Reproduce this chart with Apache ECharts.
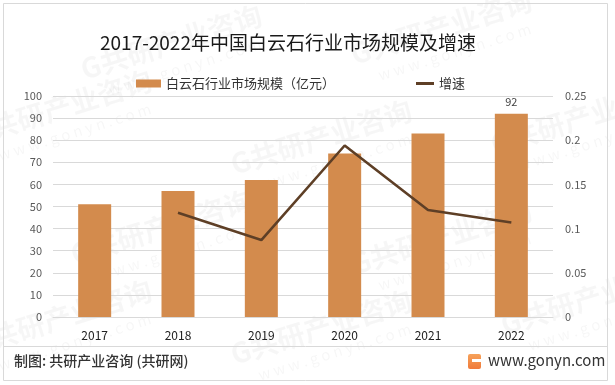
<!DOCTYPE html>
<html><head><meta charset="utf-8">
<script src="https://cdn.jsdelivr.net/npm/echarts@6/dist/echarts.min.js"></script>
<style>html,body{margin:0;padding:0;background:#fff}#c{width:615px;height:385px}</style>
</head><body><div id="c"></div>
<script>
const categories = ['2017','2018','2019','2020','2021','2022'];
const marketSize = [51, 57, 62, 74, 83, 92];
const growth = ['-', 0.118, 0.087, 0.194, 0.121, 0.107];
const leftTicks = [0,10,20,30,40,50,60,70,80,90,100];
const rightTicks = [0,0.05,0.1,0.15,0.2,0.25];
const barName = '白云石行业市场规模（亿元）';
const lineName = '增速';

const FONT = '"Noto Sans CJK SC","Noto Sans",sans-serif';
const chart = echarts.init(document.getElementById('c'));

const wm = [];
const wmPos = [[150,55],[420,40],[40,120],[300,150],[560,130],[140,240],[420,250],[40,330],[300,340],[570,310]];
wmPos.forEach(p => {
  wm.push({type:'group', x:p[0], y:p[1], rotation:0.3, silent:true, z:-1, children:[
    {type:'text', style:{text:'G共研产业咨询', x:-70, y:-20, fill:'rgba(0,0,0,0.035)', font:'bold 28px ' + FONT}},
    {type:'text', style:{text:'w w w . g o n y n . c o m', x:-50, y:14, fill:'rgba(0,0,0,0.035)', font:'15px ' + FONT}}
  ]});
});

chart.setOption({
  animation:false,
  backgroundColor:'#fff',
  textStyle:{fontFamily:FONT},
  title:{text:'2017-2022年中国白云石行业市场规模及增速', left:95, top:28,
    textStyle:{fontSize:19, fontWeight:'normal', color:'#1a1a1a', fontFamily:FONT}},
  legend:[
    {data:[{name:barName, icon:'rect'}], left:131, top:72, itemWidth:25, itemHeight:8, itemGap:4,
      textStyle:{fontSize:13, color:'#333', fontFamily:FONT}},
    {data:[{name:lineName, icon:'rect'}], left:411, top:72, itemWidth:18, itemHeight:3, itemGap:2,
      textStyle:{fontSize:13, color:'#333', fontFamily:FONT}}
  ],
  grid:{left:53, right:62, top:96, bottom:68, containLabel:false},
  xAxis:{type:'category', data:categories,
    axisLine:{lineStyle:{color:'#d9d9d9'}}, axisTick:{show:false},
    axisLabel:{color:'#222', fontSize:12, margin:12, fontFamily:FONT}},
  yAxis:[
    {type:'value', min:leftTicks[0], max:leftTicks[leftTicks.length-1], interval:10,
      axisLine:{show:false}, axisTick:{show:false},
      splitLine:{lineStyle:{color:'#d9d9d9'}},
      axisLabel:{color:'#595959', fontSize:11, margin:11, fontFamily:FONT}},
    {type:'value', min:rightTicks[0], max:rightTicks[rightTicks.length-1], interval:0.05,
      axisLine:{show:false}, axisTick:{show:false}, splitLine:{show:false},
      axisLabel:{color:'#595959', fontSize:11, margin:12, fontFamily:FONT}}
  ],
  series:[
    {name:barName, type:'bar', data:marketSize.map((v,i)=> i===marketSize.length-1 ?
        {value:v, label:{show:true, position:'top', distance:6, color:'#404040', fontSize:11}} : v),
      barWidth:33, itemStyle:{color:'#d38b4d'}},
    {name:lineName, type:'line', yAxisIndex:1, data:growth, symbol:'none',
      lineStyle:{width:2.6, color:'#5e3f26'}, itemStyle:{color:'#5e3f26'}}
  ],
  graphic:[
    ...wm,
    {type:'rect', shape:{x:3.5, y:3.5, width:604, height:377}, style:{fill:'none', stroke:'#d9d9d9', lineWidth:1}, silent:true},
    {type:'line', shape:{x1:4, y1:346.5, x2:607, y2:346.5}, style:{stroke:'#d9d9d9', lineWidth:1}, silent:true},
    {type:'text', style:{text:'制图: 共研产业咨询 (共研网)', x:14, y:354, fill:'#333', font:'500 14px ' + FONT}},
    {type:'rect', shape:{x:468, y:354, width:13, height:15, r:2},
      style:{fill:new echarts.graphic.LinearGradient(0,0,0,1,[{offset:0,color:'#f6a25a'},{offset:1,color:'#f07a3a'}])}},
    {type:'rect', shape:{x:472, y:359, width:9, height:3}, style:{fill:'#fff'}},
    {type:'text', style:{text:'www.gonyn.com', x:488, y:353, fill:'#333', font:'15px ' + FONT}}
  ]
});
</script></body></html>
